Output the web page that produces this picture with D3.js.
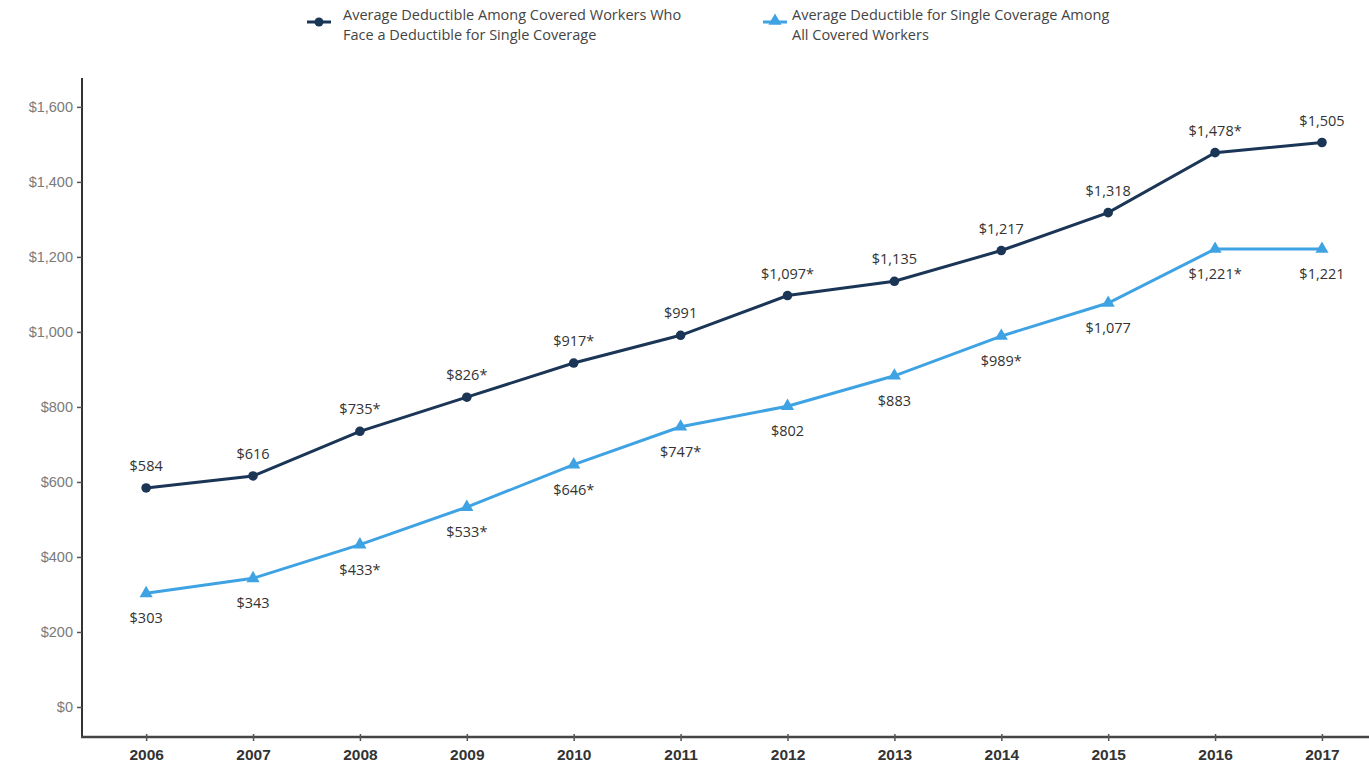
<!DOCTYPE html>
<html>
<head>
<meta charset="utf-8">
<script src="https://cdn.jsdelivr.net/npm/d3@7"></script>
<style>
  body { margin: 0; background: #fff; }
  svg { font-family: "Open Sans", "Noto Sans", sans-serif; }
</style>
</head>
<body>
<div id="chart"></div>
<script>
// data
const years = [2006, 2007, 2008, 2009, 2010, 2011, 2012, 2013, 2014, 2015, 2016, 2017]
const facingDeductible = [584, 616, 735, 826, 917, 991, 1097, 1135, 1217, 1318, 1478, 1505]
const facingLabels = ["$584", "$616", "$735*", "$826*", "$917*", "$991", "$1,097*", "$1,135", "$1,217", "$1,318", "$1,478*", "$1,505"]
const allCovered = [303, 343, 433, 533, 646, 747, 802, 883, 989, 1077, 1221, 1221]
const allLabels = ["$303", "$343", "$433*", "$533*", "$646*", "$747*", "$802", "$883", "$989*", "$1,077", "$1,221*", "$1,221"]
const yTicks = [0, 200, 400, 600, 800, 1000, 1200, 1400, 1600]
const seriesNames = [
    ["Average Deductible Among Covered Workers Who", "Face a Deductible for Single Coverage"],
    ["Average Deductible for Single Coverage Among", "All Covered Workers"]
]

const width = 1369, height = 767
const dark = "#1b3557", light = "#3fa3e3"

const svg = d3.select("#chart").append("svg")
    .attr("width", width)
    .attr("height", height)

// scales
const x = d3.scaleLinear().domain([2005.4, 2017.44]).range([82, 1369])
const y = d3.scaleLinear().domain([-80, 1677]).range([737, 78])

// axes
const yAxis = svg.append("g")
    .attr("transform", "translate(82,0)")
    .call(d3.axisLeft(y).tickValues(yTicks).tickSize(5).tickPadding(4)
        .tickFormat(d => "$" + d3.format(",")(d)))
yAxis.select(".domain").attr("d", `M0,${y(1677)}V${y(-80)}`).attr("stroke", "#333").attr("stroke-width", 2)
yAxis.selectAll(".tick line").attr("stroke", "#555").attr("stroke-width", 1.5)
yAxis.selectAll(".tick text").attr("fill", "#7a7a7a").style("font-size", "14.5px")

const xAxis = svg.append("g")
    .attr("transform", "translate(0,737)")
    .call(d3.axisBottom(x).tickValues(years).tickSize(4).tickPadding(8).tickFormat(d3.format("d")))
xAxis.select(".domain").attr("d", `M81,0H${width}`).attr("stroke", "#444").attr("stroke-width", 2.5)
xAxis.selectAll(".tick line").attr("stroke", "#555").attr("stroke-width", 1.5).attr("y1", -3)
xAxis.selectAll(".tick text").attr("fill", "#333").style("font-size", "15.5px").style("font-weight", "bold")

// lines
const line = d3.line().x((d, i) => x(years[i])).y(d => y(d))

svg.append("path").datum(allCovered)
    .attr("d", line).attr("fill", "none").attr("stroke", light).attr("stroke-width", 3)
svg.append("path").datum(facingDeductible)
    .attr("d", line).attr("fill", "none").attr("stroke", dark).attr("stroke-width", 3)

// markers
const tri = d3.symbol().type(d3.symbolTriangle).size(75)
svg.selectAll(".tri").data(allCovered).join("path")
    .attr("class", "tri")
    .attr("d", tri)
    .attr("transform", (d, i) => `translate(${x(years[i])},${y(d)})`)
    .attr("fill", light)
svg.selectAll(".dot").data(facingDeductible).join("circle")
    .attr("class", "dot")
    .attr("cx", (d, i) => x(years[i]))
    .attr("cy", d => y(d))
    .attr("r", 4.8)
    .attr("fill", dark)

// value labels
svg.selectAll(".lblTop").data(facingDeductible).join("text")
    .attr("class", "lblTop")
    .attr("x", (d, i) => x(years[i]))
    .attr("y", d => y(d) - 17)
    .attr("text-anchor", "middle")
    .attr("fill", "#333")
    .style("font-size", "14.5px")
    .text((d, i) => facingLabels[i])
svg.selectAll(".lblBot").data(allCovered).join("text")
    .attr("class", "lblBot")
    .attr("x", (d, i) => x(years[i]))
    .attr("y", d => y(d) + 30)
    .attr("text-anchor", "middle")
    .attr("fill", "#333")
    .style("font-size", "14.5px")
    .text((d, i) => allLabels[i])

// legend
const legendItems = [
    { x: 307, tx: 36, color: dark, shape: "circle", text: seriesNames[0] },
    { x: 763, tx: 29, color: light, shape: "triangle", text: seriesNames[1] }
]
legendItems.forEach(item => {
    const g = svg.append("g").attr("transform", `translate(${item.x},0)`)
    g.append("line").attr("x1", 0).attr("x2", 24).attr("y1", 22).attr("y2", 22)
        .attr("stroke", item.color).attr("stroke-width", 3)
    if (item.shape === "circle") {
        g.append("circle").attr("cx", 12).attr("cy", 22).attr("r", 4.5).attr("fill", item.color)
    } else {
        g.append("path").attr("d", tri).attr("transform", "translate(12,21)").attr("fill", item.color)
    }
    g.selectAll("text").data(item.text).join("text")
        .attr("x", item.tx)
        .attr("y", (d, i) => 20 + i * 20)
        .attr("fill", "#444")
        .style("font-size", "14.5px")
        .text(d => d)
})
</script>
</body>
</html>
